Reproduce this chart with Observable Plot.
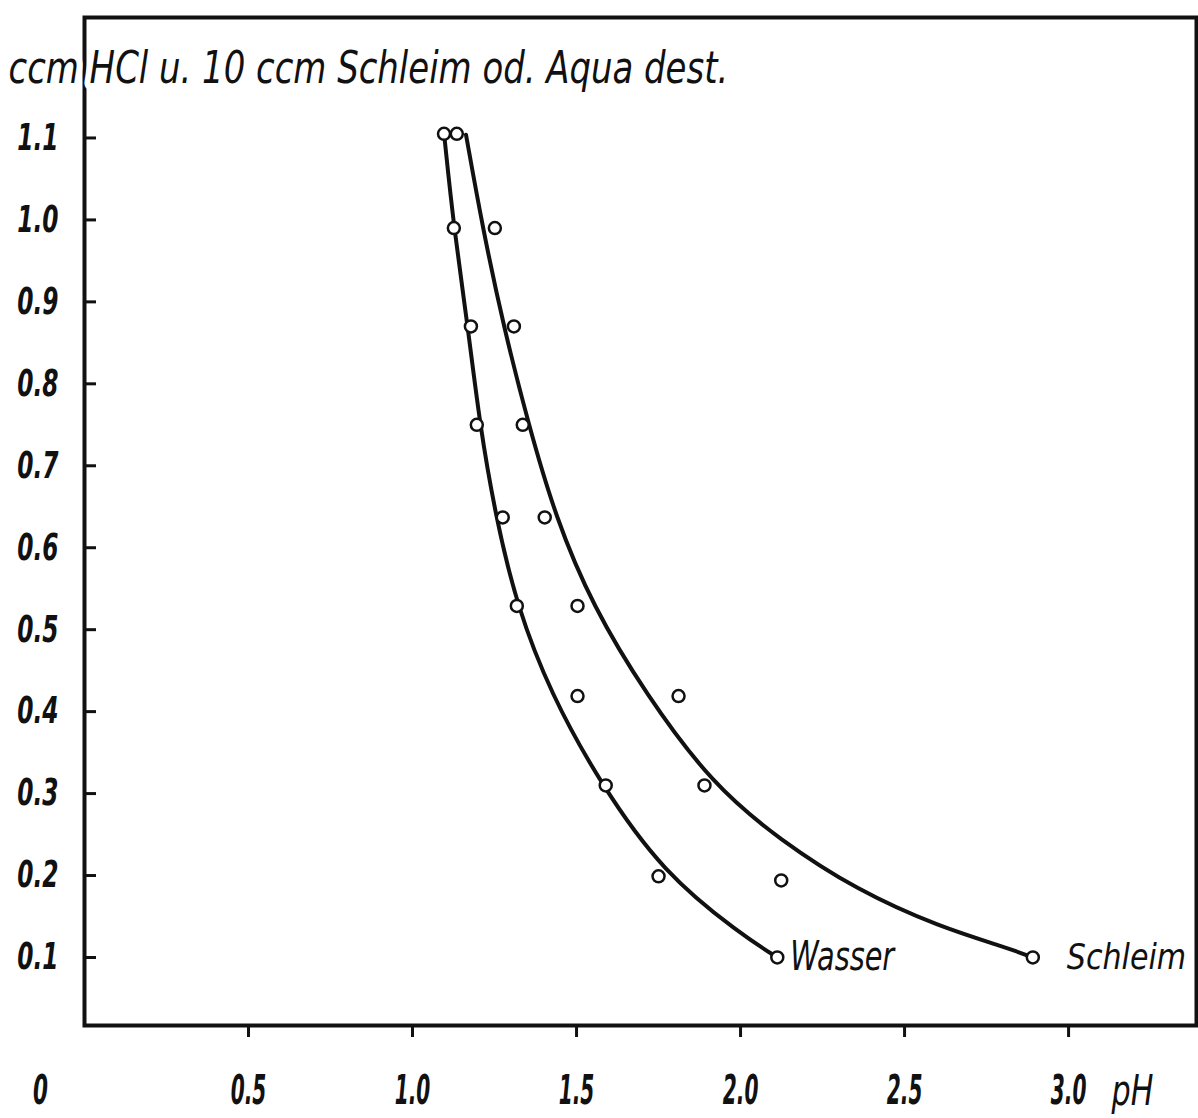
<!DOCTYPE html>
<html>
<head>
<meta charset="utf-8">
<script src="https://cdn.jsdelivr.net/npm/d3@7"></script>
<script src="https://cdn.jsdelivr.net/npm/@observablehq/plot@0.6"></script>
<style>
  html, body { margin: 0; padding: 0; background: #fff; }
  #chart svg { display: block; }
</style>
</head>
<body>
<div id="chart"></div>
<script>
// ---- tick labels / texts ----
const yTicks = [0.1, 0.2, 0.3, 0.4, 0.5, 0.6, 0.7, 0.8, 0.9, 1.0, 1.1];
const xTicks = [0.5, 1.0, 1.5, 2.0, 2.5, 3.0];
const xOriginLabel = ["0"];
const xUnitLabel = ["pH"];
const titleText = ["ccm HCl u. 10 ccm Schleim od. Aqua dest."];
const seriesNames = ["Wasser", "Schleim"];

// ---- measured points (pH, ccm HCl) ----
const wasserPH  = [1.096, 1.126, 1.178, 1.196, 1.275, 1.318, 1.503, 1.589, 1.750, 2.112];
const wasserHCl = [1.105, 0.99, 0.87, 0.75, 0.637, 0.529, 0.419, 0.31, 0.199, 0.10];
const schleimPH  = [1.135, 1.251, 1.309, 1.336, 1.403, 1.503, 1.811, 1.890, 2.124, 2.891];
const schleimHCl = [1.105, 0.99, 0.87, 0.75, 0.637, 0.529, 0.419, 0.31, 0.194, 0.10];

// ---- drawn (hand-fitted) curves ----
const wasserCurvePH  = [1.096, 1.126, 1.169, 1.205, 1.254, 1.318, 1.421, 1.573, 1.765, 1.999, 2.112];
const wasserCurveHCl = [1.106, 0.990, 0.869, 0.750, 0.637, 0.529, 0.422, 0.312, 0.203, 0.129, 0.100];
const schleimCurvePH  = [1.163, 1.214, 1.278, 1.354, 1.436, 1.549, 1.710, 1.914, 2.121, 2.355, 2.608, 2.812, 2.891];
const schleimCurveHCl = [1.104, 0.990, 0.869, 0.750, 0.637, 0.529, 0.422, 0.311, 0.243, 0.182, 0.137, 0.112, 0.100];

// ---- axis extents ----
const xDomain = [0, 3.39];
const yDomain = [0.017, 1.247];

const zip = (xs, ys, name) => xs.map((x, i) => ({ph: x, hcl: ys[i], name}));
const wasserPts = zip(wasserPH, wasserHCl, seriesNames[0]);
const schleimPts = zip(schleimPH, schleimHCl, seriesNames[1]);
const wasserCurve = zip(wasserCurvePH, wasserCurveHCl, seriesNames[0]);
const schleimCurve = zip(schleimCurvePH, schleimCurveHCl, seriesNames[1]);
const wasserEnd = [wasserPts[wasserPts.length - 1]];
const schleimEnd = [schleimPts[schleimPts.length - 1]];

const INK = "#111";
const FONT = '"Liberation Sans Narrow", "DejaVu Sans Condensed", "Liberation Sans", sans-serif';
const fmt = d3.format(".1f");

const chart = Plot.plot({
  width: 1198,
  height: 1118,
  marginLeft: 84,
  marginRight: 2,
  marginTop: 17,
  marginBottom: 93,
  style: {fontFamily: FONT, fontStyle: "italic", background: "#fff", color: INK},
  x: {domain: xDomain, label: null},
  y: {domain: yDomain, label: null},
  marks: [
    Plot.frame({stroke: INK, strokeWidth: 4}),
    Plot.axisX(xTicks, {tickSize: 12, tickPadding: 38, tickFormat: fmt, fontSize: 40, fontWeight: "bold", strokeWidth: 3, stroke: INK, fill: INK, label: null}),
    Plot.axisY(yTicks, {tickSize: 0, tickPadding: 26, tickFormat: fmt, fontSize: 37, fontWeight: "bold", fill: INK, label: null}),
    Plot.axisY(yTicks, {anchor: "right", frameAnchor: "left", tickSize: 11, text: null, strokeWidth: 3, stroke: INK, label: null}),
    Plot.text(xOriginLabel, {x: () => 0, frameAnchor: "bottom", text: d => d, dx: -44, dy: 66, fontSize: 40, fontWeight: "bold", fill: INK, lineAnchor: "middle"}),
    Plot.text(xUnitLabel, {x: () => xTicks[xTicks.length - 1], frameAnchor: "bottom", text: d => d, dx: 43, dy: 66, fontSize: 42, fill: INK, textAnchor: "start", lineAnchor: "middle"}),
    Plot.line(wasserCurve, {x: "ph", y: "hcl", curve: "basis", stroke: INK, strokeWidth: 4}),
    Plot.line(schleimCurve, {x: "ph", y: "hcl", curve: "basis", stroke: INK, strokeWidth: 4}),
    Plot.dot(wasserPts.concat(schleimPts), {x: "ph", y: "hcl", r: 6, fill: "#fff", stroke: INK, strokeWidth: 2.5}),
    Plot.text(wasserEnd, {x: "ph", y: "hcl", text: "name", dx: 13, textAnchor: "start", lineAnchor: "middle", fontSize: 40, fill: INK}),
    Plot.text(schleimEnd, {x: "ph", y: "hcl", text: "name", dx: 34, textAnchor: "start", lineAnchor: "middle", fontSize: 36, fill: INK}),
    Plot.text(titleText, {frameAnchor: "top-left", text: d => d, dx: -76, dy: 51, textAnchor: "start", lineAnchor: "middle", fontSize: 44, fill: INK, stroke: "#fff", strokeWidth: 14})
  ]
});
document.getElementById("chart").appendChild(chart);

// condense the lettering horizontally, like the narrow italic type of the original
const svg = d3.select(chart);
function squeeze(sel, k) {
  sel.each(function () {
    const w = this.getComputedTextLength();
    if (w > 0) {
      this.setAttribute("textLength", (w * k).toFixed(1));
      this.setAttribute("lengthAdjust", "spacingAndGlyphs");
    }
  });
}
const is = (s) => function () { return this.textContent === s; };
const texts = svg.selectAll('g[aria-label="text"] text');
squeeze(svg.selectAll('g[aria-label="x-axis tick label"] text'), 0.56);
squeeze(svg.selectAll('g[aria-label="y-axis tick label"] text'), 0.7);
squeeze(texts.filter(is(xOriginLabel[0])), 0.6);
squeeze(texts.filter(is(xUnitLabel[0])), 0.8);
squeeze(texts.filter(is(seriesNames[0])), 0.8);
squeeze(texts.filter(is(seriesNames[1])), 0.93);
squeeze(texts.filter(is(titleText[0])), 0.857);
</script>
</body>
</html>
